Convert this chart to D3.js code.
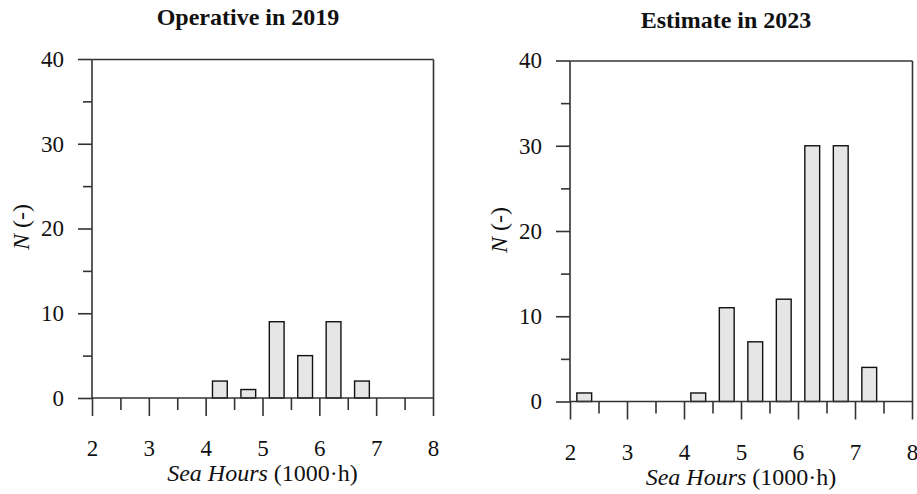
<!DOCTYPE html>
<html><head><meta charset="utf-8">
<script src="https://cdn.jsdelivr.net/npm/d3@7"></script>
<style>body{margin:0;background:#fff}svg{display:block}</style>
</head><body>
<svg id="c" width="917" height="494"></svg>
<script>
// Data
const binCenters = [2.25, 2.75, 3.25, 3.75, 4.25, 4.75, 5.25, 5.75, 6.25, 6.75, 7.25, 7.75];
const counts2019 = [0, 0, 0, 0, 2, 1, 9, 5, 9, 2, 0, 0];
const counts2023 = [1, 0, 0, 0, 1, 11, 7, 12, 30, 30, 4, 0];
const titles = ["Operative in 2019", "Estimate in 2023"];
const xTicks = [2, 3, 4, 5, 6, 7, 8];
const yTicks = [0, 10, 20, 30, 40];
const binWidth = 0.26;

const svg = d3.select("#c");
const font = "'Liberation Serif','Times New Roman',serif";

const panels = [
  {x0: 92, x1: 433, y0: 398, y1: 59, data: counts2019, title: titles[0], tx: 248, ty: 25, ylx: 21, yly: 227},
  {x0: 570, x1: 912, y0: 401.5, y1: 60.5, data: counts2023, title: titles[1], tx: 726, ty: 28, ylx: 499, yly: 230}
];

panels.forEach(p => {
  const x = d3.scaleLinear().domain([2, 8]).range([p.x0, p.x1]);
  const y = d3.scaleLinear().domain([0, 40]).range([p.y0, p.y1]);
  const g = svg.append("g");

  g.selectAll("rect").data(binCenters.map((c, i) => ({c, v: p.data[i]})).filter(d => d.v > 0))
    .join("rect")
    .attr("x", d => x(d.c - binWidth / 2))
    .attr("width", d => x(d.c + binWidth / 2) - x(d.c - binWidth / 2))
    .attr("y", d => y(d.v))
    .attr("height", d => y(0) - y(d.v))
    .attr("fill", "#e6e6e6").attr("stroke", "#111").attr("stroke-width", 1.4);

  const yMinor = d3.axisLeft(y).tickValues([5, 15, 25, 35]).tickSize(9).tickFormat("");
  const xMinor = d3.axisBottom(x).tickValues([2.5, 3.5, 4.5, 5.5, 6.5, 7.5]).tickSize(12).tickFormat("");
  const ax = [];
  ax.push(g.append("g").attr("transform", `translate(${p.x0},0)`).call(yMinor));
  ax.push(g.append("g").attr("transform", `translate(0,${p.y0})`).call(xMinor));
  ax.push(g.append("g").attr("transform", `translate(${p.x0},0)`)
    .call(d3.axisLeft(y).tickValues(yTicks).tickSize(14).tickPadding(14).tickFormat(d3.format("d"))));
  ax.push(g.append("g").attr("transform", `translate(0,${p.y0})`)
    .call(d3.axisBottom(x).tickValues(xTicks).tickSize(18).tickPadding(24).tickFormat(d3.format("d"))));
  ax.push(g.append("g").attr("transform", `translate(0,${p.y1})`)
    .call(d3.axisTop(x).tickValues([]).tickSizeOuter(0)));
  ax.push(g.append("g").attr("transform", `translate(${p.x1},0)`)
    .call(d3.axisRight(y).tickValues([]).tickSizeOuter(0)));
  ax.forEach(a => {
    a.selectAll("path.domain").attr("stroke", "#333").attr("stroke-width", 1.6);
    a.selectAll(".tick line").attr("stroke", "#333").attr("stroke-width", 1.6);
    a.selectAll("text").attr("font-family", font).attr("font-size", 23).attr("fill", "#111");
  });
  ax.slice(0, 4).forEach(a => a.select("path.domain").attr("d", null));
  g.append("line").attr("x1", p.x0).attr("x2", p.x0).attr("y1", p.y1).attr("y2", p.y0).attr("stroke", "#333").attr("stroke-width", 1.6);
  g.append("line").attr("x1", p.x0).attr("x2", p.x1).attr("y1", p.y0).attr("y2", p.y0).attr("stroke", "#333").attr("stroke-width", 1.6);

  svg.append("text").attr("x", p.tx).attr("y", p.ty).attr("text-anchor", "middle")
    .attr("font-family", font).attr("font-weight", "bold").attr("font-size", 24).attr("fill", "#111")
    .text(p.title);
  const xl = svg.append("text").attr("x", (p.x0 + p.x1) / 2).attr("y", p.y0 + 83)
    .attr("text-anchor", "middle").attr("font-family", font).attr("font-size", 24).attr("fill", "#111");
  xl.append("tspan").attr("font-style", "italic").text("Sea Hours");
  xl.append("tspan").text(" (1000·h)");
  const yl = svg.append("text").attr("transform", `translate(${p.ylx},${p.yly}) rotate(-90)`)
    .attr("text-anchor", "middle").attr("dominant-baseline", "central")
    .attr("font-family", font).attr("font-size", 24).attr("fill", "#111");
  yl.append("tspan").attr("font-style", "italic").text("N");
  yl.append("tspan").text(" (-)");
});
</script>
</body></html>
